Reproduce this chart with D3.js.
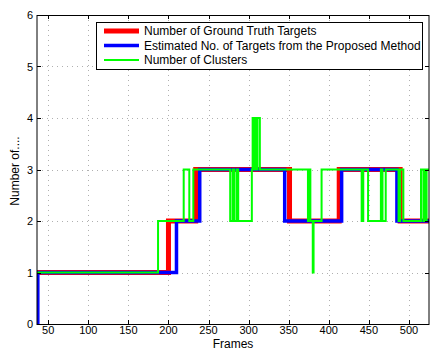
<!DOCTYPE html>
<html><head><meta charset="utf-8">
<script src="https://cdn.jsdelivr.net/npm/d3@7"></script>
<style>body{margin:0;background:#fff}svg{display:block;font-family:"Liberation Sans",Arial,sans-serif}</style>
</head><body><svg id="c" width="443" height="360"></svg>
<script>
// ---- data ----
const xTicks = [50,100,150,200,250,300,350,400,450,500];
const yTicks = [0,1,2,3,4,5,6];
const legendLabels = ["Number of Ground Truth Targets","Estimated No. of Targets from the Proposed Method","Number of Clusters"];
const truthFrames = [36,200,234,351,413,489,525];
const truthValues = [1,2,3,2,3,2,2];
const estFrames = [36,37,210,239,345,416,485,525];
const estValues = [0,1,2,3,2,3,2,2];
const clusterFrames = [36,187,219,226,231,277,280,282,285,287,304,305,307,308,310,311,314,374,376,377,380,381,391,441,443,449,465,467,471,487,489,493,515,518,519,521,522,525];
const clusterValues = [1,2,3,2,3,2,3,2,3,2,3,4,3,4,3,4,3,2,3,2,1,2,3,2,3,2,3,2,3,2,3,2,3,2,3,2,3,3];

const svg = d3.select("#c");
const L=37,R=429,T=15,B=324;
const x = d3.scaleLinear().domain([36,525]).range([L,R]);
const y = d3.scaleLinear().domain([0,6]).range([B,T]);

// grid
const g = svg.append("g");
g.selectAll(".vg").data(xTicks).join("line")
  .attr("x1",d=>Math.round(x(d))+0.5).attr("x2",d=>Math.round(x(d))+0.5)
  .attr("y1",T).attr("y2",B).attr("stroke","#b0b0b0").attr("stroke-dasharray","1,4");
g.selectAll(".hg").data(yTicks.slice(1,-1)).join("line")
  .attr("y1",d=>Math.round(y(d))+0.5).attr("y2",d=>Math.round(y(d))+0.5)
  .attr("x1",L).attr("x2",R).attr("stroke","#b0b0b0").attr("stroke-dasharray","1,4");

// series
function mk(fr,vals){return fr.map((f,i)=>[f,vals[i]]);}
const line = d3.line().x(d=>x(d[0])).y(d=>y(d[1])).curve(d3.curveStepAfter);
const series = [
  {data:mk(truthFrames,truthValues),color:"#ff0000",w:5},
  {data:mk(estFrames,estValues),color:"#0000ff",w:3.5},
  {data:mk(clusterFrames,clusterValues),color:"#00ff00",w:2}
];
svg.append("clipPath").attr("id","cp").append("rect").attr("x",L).attr("y",T-4).attr("width",R-L).attr("height",B-T+4);
svg.append("g").attr("clip-path","url(#cp)").selectAll("path").data(series).join("path")
  .attr("d",d=>line(d.data)).attr("fill","none").attr("stroke",d=>d.color).attr("stroke-width",d=>d.w);

// axes box
const ax = svg.append("g").attr("stroke","#000").attr("stroke-width",1);
ax.append("line").attr("x1",L).attr("x2",R).attr("y1",B+0.5).attr("y2",B+0.5);
ax.append("line").attr("x1",L).attr("x2",R).attr("y1",T+0.5).attr("y2",T+0.5);
ax.append("line").attr("x1",L).attr("x2",L).attr("y1",T).attr("y2",B+1);
ax.append("line").attr("x1",R).attr("x2",R).attr("y1",T).attr("y2",B+1);

// ticks (inward)
const tl=4;
xTicks.forEach(t=>{
  const px=Math.round(x(t))+0.5;
  ax.append("line").attr("x1",px).attr("x2",px).attr("y1",B).attr("y2",B-tl);
  ax.append("line").attr("x1",px).attr("x2",px).attr("y1",T).attr("y2",T+tl);
});
yTicks.forEach(t=>{
  const py=Math.round(y(t))+0.5;
  ax.append("line").attr("x1",L).attr("x2",L+tl).attr("y1",py).attr("y2",py);
  ax.append("line").attr("x1",R).attr("x2",R-tl).attr("y1",py).attr("y2",py);
});

// tick labels
svg.append("g").selectAll("text").data(xTicks).join("text")
  .attr("x",d=>x(d)).attr("y",B+9.5).attr("text-anchor","middle").attr("font-size",11).text(d=>d);
svg.append("g").selectAll("text").data(yTicks).join("text")
  .attr("x",33).attr("y",d=>y(d)+4).attr("text-anchor","end").attr("font-size",11).text(d=>d);

// axis labels
svg.append("text").attr("x",(L+R)/2).attr("y",348).attr("text-anchor","middle").attr("font-size",12).text("Frames");
svg.append("text").attr("transform","translate(19,171) rotate(-90)").attr("text-anchor","middle").attr("font-size",12).text("Number of....");

// legend
const lg = svg.append("g");
lg.append("rect").attr("x",96.5).attr("y",22.5).attr("width",326).attr("height",47).attr("fill","#fff").attr("stroke","#000");
const ly=[31,45.5,60];
series.forEach((s,i)=>{
  lg.append("line").attr("x1",104).attr("x2",139).attr("y1",ly[i]).attr("y2",ly[i]).attr("stroke",s.color).attr("stroke-width",s.w);
  lg.append("text").attr("x",144).attr("y",ly[i]+4.2).attr("font-size",12).text(legendLabels[i]);
});
</script></body></html>
